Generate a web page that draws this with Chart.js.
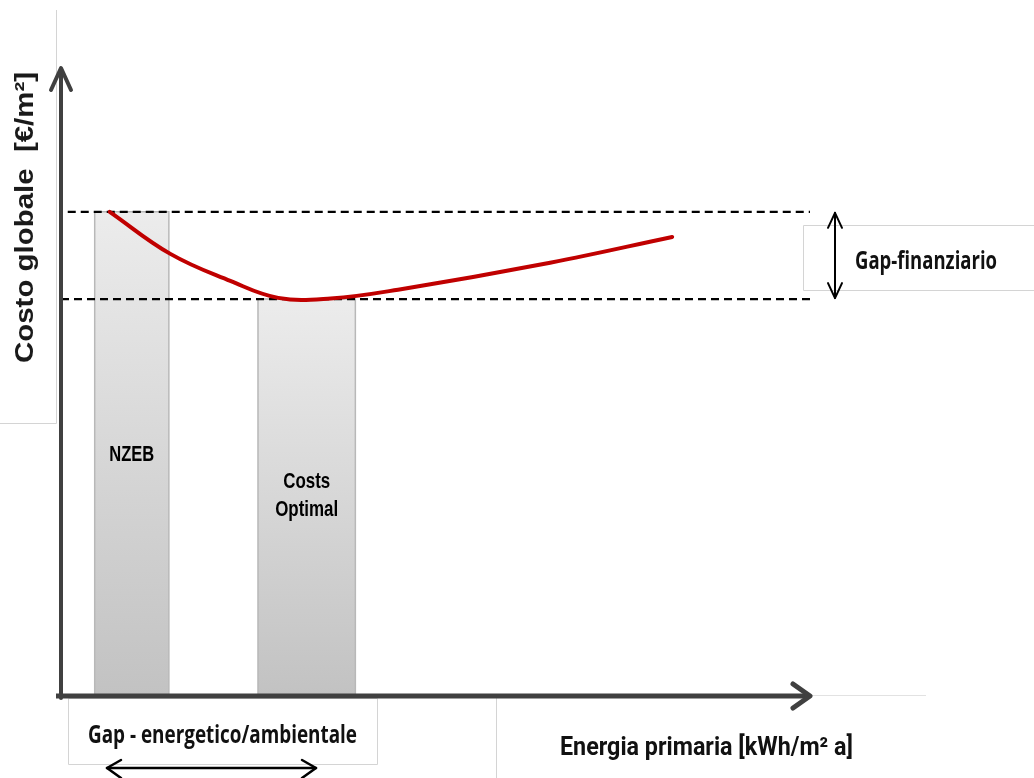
<!DOCTYPE html>
<html><head><meta charset="utf-8">
<script src="https://cdn.jsdelivr.net/npm/chart.js@4/dist/chart.umd.min.js"></script>
<style>html,body{margin:0;padding:0;background:#fff;overflow:hidden}canvas{display:block}</style>
</head><body>
<canvas id="c" width="1034" height="778"></canvas>
<script>
// ---- data (schematic units, 0..100 on both axes) ----
const curveX = [6.5, 14.6, 22.6, 29.0, 36.0, 45.0, 65.3, 81.6];
const curveY = [77.1, 70.4, 66.1, 63.4, 63.3, 64.7, 69.0, 73.1];
const barLabels = [['NZEB'], ['Costs', 'Optimal']];
const barStart = [4.5, 26.3];
const barEnd = [14.4, 39.3];
const barTop = [77.1, 63.2];
const gapLevels = [77.1, 63.2];
const gapLineStart = [0.9, 0];
const axisMin = 0;
const axisMax = 100;
const xTitle = 'Energia primaria [kWh/m\u00B2 a]';
const yTitle = 'Costo globale  [\u20AC/m\u00B2]';
const gapFinLabel = 'Gap-finanziario';
const gapEnLabel = 'Gap - energetico/ambientale';

// ---- datasets ----
const datasets = [];
datasets.push({
  label: 'Costo globale',
  data: curveX.map((x, i) => ({x, y: curveY[i]})),
  borderColor: '#c00000', borderWidth: 4, pointRadius: 0,
  tension: 0.4, fill: false, borderCapStyle: 'round'
});
gapLevels.forEach((lvl, i) => {
  datasets.push({
    label: 'gap' + i,
    data: [{x: gapLineStart[i], y: lvl}, {x: axisMax, y: lvl}],
    borderColor: '#000', borderWidth: 2.2, borderDash: [8, 5],
    pointRadius: 0, fill: false, tension: 0
  });
});
barStart.forEach((s, i) => {
  datasets.push({
    label: barLabels[i].join(' '),
    data: [{x: s, y: 0}, {x: s, y: barTop[i]}, {x: barEnd[i], y: barTop[i]}, {x: barEnd[i], y: 0}],
    borderColor: '#b8b8b8', borderWidth: 1.5, pointRadius: 0, tension: 0,
    fill: 'origin',
    backgroundColor: (c) => {
      const ch = c.chart;
      if (!ch.chartArea || !ch.scales.y) return '#dedede';
      const ys = ch.scales.y;
      const g = ch.ctx.createLinearGradient(0, ys.getPixelForValue(barTop[i]), 0, ys.getPixelForValue(0));
      g.addColorStop(0, '#ececec');
      g.addColorStop(1, '#c2c2c2');
      return g;
    }
  });
});

function fitText(ctx, text, x, y, width, font, align) {
  ctx.save();
  ctx.font = font;
  const w = ctx.measureText(text).width;
  const sx = width / w;
  const left = align === 'center' ? x - width / 2 : x;
  ctx.translate(left, y);
  ctx.scale(sx, 1);
  ctx.textAlign = 'left';
  ctx.textBaseline = 'alphabetic';
  ctx.fillText(text, 0, 0);
  ctx.restore();
}

function chevron(ctx, tx, ty, a, b) {
  ctx.beginPath();
  ctx.moveTo(tx + a[0], ty + a[1]);
  ctx.lineTo(tx, ty);
  ctx.lineTo(tx + b[0], ty + b[1]);
  ctx.stroke();
}

const decor = {
  id: 'decor',
  beforeDraw(chart) {
    const ctx = chart.ctx;
    ctx.save();
    ctx.fillStyle = '#fff';
    ctx.fillRect(0, 0, chart.width, chart.height);
    // faint text-box borders
    ctx.strokeStyle = '#d4d4d4';
    ctx.lineWidth = 1;
    ctx.beginPath();
    ctx.moveTo(56.5, 10); ctx.lineTo(56.5, 423.5); ctx.lineTo(0, 423.5);
    ctx.moveTo(1034, 225.5); ctx.lineTo(803.5, 225.5); ctx.lineTo(803.5, 290.5); ctx.lineTo(1034, 290.5);
    ctx.moveTo(496.5, 698); ctx.lineTo(496.5, 778);
    ctx.rect(68.5, 698.5, 309, 66);
    ctx.stroke();
    ctx.strokeStyle = '#e2e2e2';
    ctx.beginPath();
    ctx.moveTo(810, 695.5); ctx.lineTo(926, 695.5);
    ctx.stroke();
    ctx.restore();
  },
  afterDatasetsDraw(chart) {
    const ctx = chart.ctx;
    const xs = chart.scales.x, ys = chart.scales.y;
    const x0 = xs.getPixelForValue(axisMin), x1 = xs.getPixelForValue(axisMax);
    const y0 = ys.getPixelForValue(axisMin), y1 = ys.getPixelForValue(axisMax);
    ctx.save();
    // axes
    ctx.strokeStyle = '#404040';
    ctx.lineCap = 'round';
    ctx.lineJoin = 'round';
    ctx.lineWidth = 4;
    ctx.beginPath(); ctx.moveTo(x0, y0 + 2); ctx.lineTo(x0, y1 + 2); ctx.stroke();
    chevron(ctx, x0, y1, [-10, 22], [10, 22]);
    ctx.lineWidth = 5;
    ctx.lineCap = 'butt';
    ctx.beginPath(); ctx.moveTo(x0 - 5, y0); ctx.lineTo(x1 - 2, y0); ctx.stroke();
    ctx.lineCap = 'round';
    chevron(ctx, x1, y0, [-17, -12], [-17, 12]);

    // gap-finanziario double arrow
    const gTop = ys.getPixelForValue(gapLevels[0]), gBot = ys.getPixelForValue(gapLevels[1]);
    const ax = 835;
    ctx.strokeStyle = '#000';
    ctx.lineWidth = 2;
    ctx.beginPath(); ctx.moveTo(ax, gTop + 1); ctx.lineTo(ax, gBot - 1); ctx.stroke();
    chevron(ctx, ax, gTop + 1, [-7, 15], [7, 15]);
    chevron(ctx, ax, gBot - 1, [-7, -15], [7, -15]);

    // gap-energetico double arrow (cut by page bottom)
    ctx.lineWidth = 2.5;
    ctx.beginPath(); ctx.moveTo(107, 768); ctx.lineTo(316, 768); ctx.stroke();
    chevron(ctx, 107, 768, [14, -8], [14, 10]);
    chevron(ctx, 316, 768, [-14, -8], [-14, 10]);

    // bar labels
    ctx.fillStyle = '#000';
    const bf = 'bold 22px "Liberation Sans", Arial, sans-serif';
    const cx0 = (xs.getPixelForValue(barStart[0]) + xs.getPixelForValue(barEnd[0])) / 2;
    const cx1 = (xs.getPixelForValue(barStart[1]) + xs.getPixelForValue(barEnd[1])) / 2;
    fitText(ctx, barLabels[0][0], cx0, 461, 45, bf, 'center');
    fitText(ctx, barLabels[1][0], cx1, 488, 47, bf, 'center');
    fitText(ctx, barLabels[1][1], cx1, 516, 63, bf, 'center');

    // box labels
    ctx.fillStyle = '#111';
    fitText(ctx, gapFinLabel, 855, 269, 142, 'bold 25px "Open Sans", sans-serif', 'left');
    fitText(ctx, gapEnLabel, 88, 743, 269, 'bold 25px "Open Sans", sans-serif', 'left');

    // axis titles
    fitText(ctx, xTitle, 560, 755, 293, 'bold 26px Roboto, sans-serif', 'left');
    ctx.save();
    ctx.translate(33, 363);
    ctx.rotate(-Math.PI / 2);
    ctx.fillStyle = '#1a1a1a';
    fitText(ctx, yTitle, 0, 0, 291, 'bold 25px "Liberation Sans", Arial, sans-serif', 'left');
    ctx.restore();
    ctx.restore();
  }
};

new Chart(document.getElementById('c'), {
  type: 'line',
  data: {datasets},
  options: {
    responsive: false,
    animation: false,
    devicePixelRatio: 1,
    layout: {padding: {left: 61, right: 224, top: 68, bottom: 82}},
    plugins: {legend: {display: false}, tooltip: {enabled: false}},
    scales: {
      x: {type: 'linear', min: axisMin, max: axisMax, display: false},
      y: {type: 'linear', min: axisMin, max: axisMax, display: false}
    }
  },
  plugins: [decor]
});
</script>
</body></html>
